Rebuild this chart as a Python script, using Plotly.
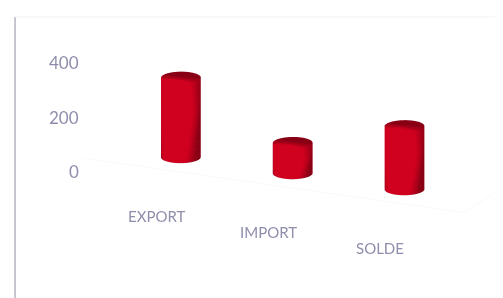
import numpy as np
import plotly.graph_objects as go

categories = ["EXPORT", "IMPORT", "SOLDE"]
values = [290, 110, 230]
tick_vals = [0, 200, 400]
tick_text = ["0", "200", "400"]

BAR_COLOR = "#d0001f"
TEXT_COLOR = "#8f8eac"

def cylinder(xc, yc, r, h, n=48):
    t = np.linspace(0, 2 * np.pi, n, endpoint=False)
    xs = np.concatenate([xc + r * np.cos(t), xc + r * np.cos(t), [xc, xc]])
    ys = np.concatenate([yc + r * np.sin(t), yc + r * np.sin(t), [yc, yc]])
    zs = np.concatenate([np.zeros(n), np.full(n, h), [0, h]])
    I, J, K = [], [], []
    for k in range(n):
        a, b = k, (k + 1) % n
        I += [a, b]; J += [b, b + n]; K += [a + n, a + n]
        I.append(2 * n); J.append(b); K.append(a)
        I.append(2 * n + 1); J.append(a + n); K.append(b + n)
    return xs, ys, zs, I, J, K

fig = go.Figure()
for i, (cat, v) in enumerate(zip(categories, values)):
    xs, ys, zs, I, J, K = cylinder(i, 0, 0.16, v)
    fig.add_trace(go.Mesh3d(
        x=xs, y=ys, z=zs, i=I, j=J, k=K, color=BAR_COLOR, flatshading=False,
        lighting=dict(ambient=0.65, diffuse=0.6, specular=0.1, roughness=0.7, fresnel=0.2),
        lightposition=dict(x=20000, y=-100000, z=-10000),
        hoverinfo="skip", name=cat, showscale=False))

X0, X1 = -0.7, 2.7
Y0, Y1 = -0.35, 0.35
annotations = []
for v, t in zip(tick_vals, tick_text):
    annotations.append(dict(x=X0, y=Y0, z=v, text=t, showarrow=False, xanchor="right",
                            xshift=-2, yshift=-14, font=dict(size=17, color=TEXT_COLOR)))
for i, cat in enumerate(categories):
    annotations.append(dict(x=i, y=Y0, z=0, text=cat, showarrow=False, xanchor="center",
                            yshift=-47, xshift=-5, font=dict(size=15, color=TEXT_COLOR)))

axis_common = dict(showbackground=False, showgrid=False, zeroline=False, showticklabels=False,
                   showspikes=False, ticks="", title=dict(text=""))
fig.update_layout(
    width=503, height=298,
    margin=dict(l=0, r=0, t=0, b=0),
    paper_bgcolor="white",
    showlegend=False,
    font=dict(family="Lato, 'Open Sans', sans-serif", color=TEXT_COLOR),
    scene=dict(
        domain=dict(x=[0.02, 1.0], y=[0.0, 1.0]),
        xaxis=dict(axis_common, range=[X0, X1], showline=True, linecolor="#f6f3f6"),
        yaxis=dict(axis_common, range=[Y0, Y1], showline=True, linecolor="#f6f3f6"),
        zaxis=dict(axis_common, range=[0, 400], showline=False),
        aspectmode="manual", aspectratio=dict(x=2.83, y=0.6, z=0.77),
        camera=dict(eye=dict(x=0.59, y=-1.668, z=0.28), center=dict(x=-0.21, y=0, z=-0.30),
                    projection=dict(type="orthographic")),
        bgcolor="white",
        annotations=annotations,
    ),
    shapes=[
        dict(type="line", xref="paper", yref="paper", x0=0.014, x1=0.014, y0=0, y1=0.97,
             line=dict(color="#b8b4c4", width=1.5)),
        dict(type="line", xref="paper", yref="paper", x0=0.014, x1=1, y0=0.97, y1=0.97,
             line=dict(color="#f2f1f4", width=1)),
    ],
)
fig.write_html("out.html")
